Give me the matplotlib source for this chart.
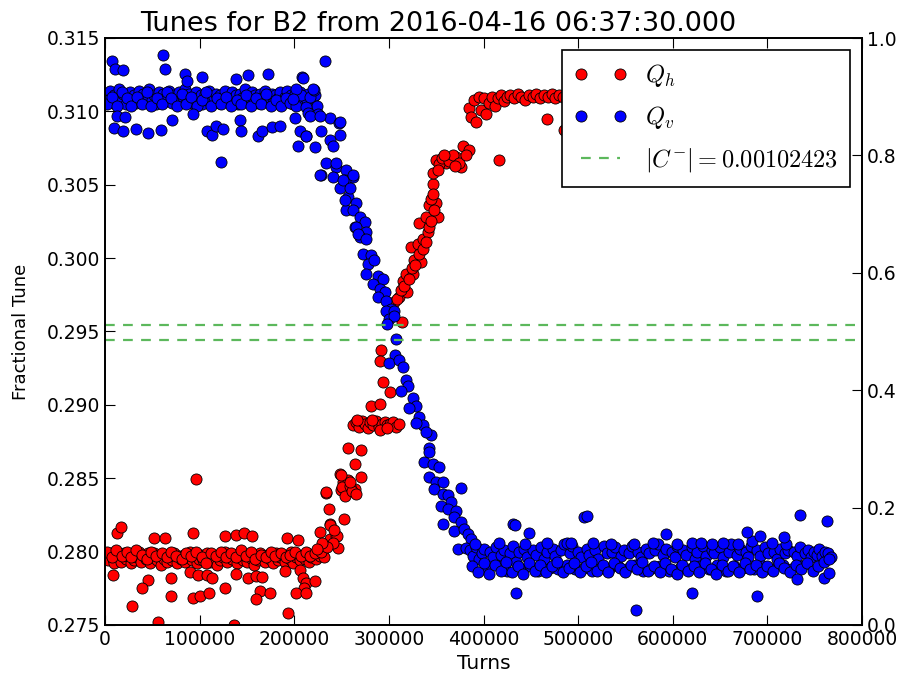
import matplotlib
matplotlib.use("Agg")
import matplotlib.pyplot as plt
from matplotlib.ticker import FormatStrFormatter
import numpy as np

plt.rcParams.update({
    "mathtext.fontset": "cm",
    "lines.scale_dashes": False,
    "font.family": "DejaVu Sans",
})

# Q_h points, (turns in thousands, tune)
qh_band = [(1,.2797),(3,.2794),(6,.2799),(8,.2795),(10,.2792),(13,.2798),(15,.2796),(17,.2793),(20,.2799),(22,.2795),
           (24,.2797),(27,.2792),(29,.2798),(31,.2794),(34,.2796),(36,.2800),(38,.2793),(41,.2797),(43,.2795),(45,.2799),
           (48,.2792),(50,.2796),(52,.2799),(55,.2794),(57,.2797),(59,.2791),(62,.2795),(64,.2798),(66,.2793),(69,.2796),
           (71,.2794),(73,.2799),(76,.2792),(78,.2797),(80,.2795),(83,.2798),(85,.2793),(87,.2796),(90,.2800),(92,.2794),
           (94,.2797),(97,.2792),(99,.2795),(101,.2798),(104,.2794),(106,.2796),(108,.2799),(111,.2793),(113,.2797),(115,.2795),
           (118,.2791),(120,.2798),(122,.2794),(125,.2796),(127,.2800),(129,.2793),(132,.2797),(134,.2795),(136,.2798),(139,.2792),
           (141,.2796),(143,.2799),(146,.2794),(148,.2797),(150,.2793),(153,.2798),(155,.2795),(157,.2791),(160,.2797),(162,.2794),
           (164,.2799),(167,.2796),(169,.2793),(171,.2798),(174,.2795),(176,.2797),(178,.2792),(181,.2799),(183,.2794),(185,.2796),
           (188,.2798),(190,.2793),(192,.2797),(195,.2795),(197,.2800),(199,.2792),(202,.2796),(204,.2798),(206,.2794),(209,.2797),
           (211,.2795),(213,.2799),(216,.2793),(218,.2796),(220,.2798),(223,.2795),(225,.2801),(227,.2797),(229,.2799),(231,.2796),
           (2,.2800),(7,.2796),(12,.2801),(18,.2797),(23,.2800),(28,.2796),(33,.2801),(39,.2798),(44,.2795),(49,.2800),
           (54,.2797),(60,.2799),(65,.2796),(70,.2800),(75,.2797),(81,.2795),(86,.2799),(91,.2797),(96,.2800),(102,.2796),
           (107,.2792),(112,.2799),(117,.2797),(123,.2800),(128,.2796),(133,.2799),(138,.2796),(144,.2801),(149,.2797),(154,.2800),
           (159,.2795),(165,.2798),(170,.2796),(175,.2800),(180,.2797),(186,.2799),(191,.2796),(196,.2798),(201,.2800),(207,.2797),
           (212,.2800),(217,.2797),(222,.2799),(228,.2800)]
qh_scatter = [(95.7,.28493),(13.0,.28126),(16.9,.28170),(51.7,.28090),(63.3,.28090),(92.8,.28126),(126.3,.28104),
              (138.5,.28113),(146.6,.28126),(155.8,.28104),(192.3,.28090),(203.9,.28080),(8.8,.27838),(45.7,.27807),
              (39.3,.27749),(69.3,.27822),(69.3,.27697),(28.2,.27628),(55.9,.27521),(89.7,.27864),(98.4,.27838),
              (107.3,.27838),(113.6,.27822),(93.1,.27681),(100.2,.27697),(109.7,.27715),(126.9,.27749),(136.8,.27502),
              (138.9,.27845),(151.2,.27822),(159.3,.27833),(166.4,.27826),(163.8,.27733),(159.3,.27674),(174.1,.27715),
              (193.4,.27582),(189.9,.27868),(205.7,.27873),(209.2,.27822),(212.8,.27788),(221.5,.27800),(209.9,.27754),
              (202.2,.27720),(212.0,.27715)]
qh_rise = [(226.8,.28131),(233.1,.28399),(233.9,.28406),(236.6,.28291),(238.1,.28188),(237.4,.28181),(237.4,.28085),
           (244.4,.28109),(245.1,.28109),(246.1,.28028),(252.4,.28222),(247.9,.28531),(251.4,.28474),(249.7,.28417),
           (256.7,.28486),(263.7,.28424),(256.7,.28703),(263.7,.28600),(270.8,.28692),(270.8,.28509),(250.5,.28440),
           (254.0,.28380),(258.5,.28450),(261.5,.28410),(265.5,.28390),(240.5,.28060),(242.5,.28150),(234.5,.28030),
           (229.5,.28060),(224.5,.28020),(249.7,.28524),(259.2,.28474),
           (261.6,.28860),(265.0,.28880),(268.5,.28850),(271.5,.28890),(274.5,.28870),(277.5,.28840),(280.5,.28880),
           (283.5,.28860),(286.5,.28890),(289.5,.28850),(292.5,.28870),(295.5,.28880),(298.5,.28860),(301.5,.28870),
           (304.5,.28880),(307.5,.28850),(311.0,.28870),(266.5,.28900),(282.5,.28900),(290.5,.28830),(298.0,.28840),
           (281.3,.28989),(290.1,.29005),(293.6,.29154),(301.4,.29087),(291.9,.29373),(290.1,.29298),(314.0,.29567),
           (305.9,.29698),(311.2,.29732),(318.9,.29766),(314.7,.29847),(318.3,.29892),(325.2,.29892),(327.0,.29984),
           (334.1,.29972),(323.5,.30075),(330.5,.30098),(335.8,.30133),(341.1,.30178),(332.3,.30240),(339.4,.30281),
           (342.8,.30361),(349.9,.30373),(351.6,.30281),(342.8,.30212),(346.3,.30505),(347.1,.30583),(308.5,.29720),
           (312.5,.29780),(316.5,.29810),(321.0,.29860),(324.0,.29930),(328.0,.29950),(331.5,.30030),(336.5,.30060),
           (339.5,.30110),(344.5,.30250),(347.5,.30330),(344.0,.30400),(346.5,.30440),
           (349.9,.30670),(360.5,.30647),(371.0,.30692),(378.0,.30761),(376.3,.30624),(385.0,.30738),(385.0,.31025),
           (353.5,.30640),(356.5,.30680),(363.5,.30660),(367.5,.30700),(374.5,.30650),(381.5,.30700),(351.5,.30600),
           (358.5,.30700),(369.5,.30630),(416.7,.30670),(485.3,.30876),(467.0,.30950),(493.5,.30990),(503.0,.31000)]
qh_top = [(387,.30960),(390,.31080),(392,.30930),(395,.31100),(397,.31010),(400,.31090),(403,.30980),(406,.31060),
          (409,.31100),(412,.31040),(415,.31090),(419,.31110),(422,.31070),(425,.31100),(428,.31110),(432,.31090),
          (436,.31120),(440,.31100),(444,.31080),(448,.31110),(452,.31100),(456,.31120),(460,.31090),(464,.31110),
          (468,.31100),(472,.31120),(476,.31090),(480,.31110),(484,.31100),(488,.31080),(492,.31110),(496,.31120),
          (500,.31100),(504,.31090),(508,.31110),(512,.31100),(516,.31120),(520,.31090),(524,.31110),(528,.31100),
          (532,.31080),(536,.31110),(540,.31100),(544,.31120),(548,.31090),(552,.31110),(560,.31100),(575,.31110),
          (590,.31100),(605,.31110),(620,.31100),(640,.31110),(660,.31100),(680,.31110),(700,.31100),(720,.31110),
          (740,.31100),(760,.31110)]

# Q_v points, (turns in thousands, tune)
qv_band = [(1,.3112),(3,.3108),(5,.3114),(8,.3106),(10,.3111),(12,.3109),(15,.3115),(17,.3107),(19,.3112),(22,.3105),
           (24,.3110),(26,.3113),(29,.3108),(31,.3111),(33,.3106),(36,.3114),(38,.3109),(40,.3112),(43,.3107),(45,.3110),
           (47,.3115),(50,.3108),(52,.3111),(54,.3105),(57,.3113),(59,.3109),(61,.3112),(64,.3107),(66,.3110),(68,.3114),
           (71,.3106),(73,.3111),(75,.3109),(78,.3113),(80,.3107),(82,.3110),(85,.3115),(87,.3108),(89,.3112),(92,.3106),
           (94,.3110),(96,.3113),(99,.3109),(101,.3111),(103,.3105),(106,.3112),(108,.3108),(110,.3114),(113,.3107),(115,.3110),
           (117,.3112),(120,.3106),(122,.3111),(124,.3109),(127,.3114),(129,.3107),(131,.3110),(134,.3113),(136,.3108),(138,.3111),
           (141,.3105),(143,.3112),(145,.3109),(148,.3115),(150,.3107),(152,.3110),(155,.3113),(157,.3108),(159,.3111),(162,.3106),
           (164,.3112),(166,.3109),(169,.3114),(171,.3107),(173,.3110),(176,.3112),(178,.3106),(180,.3111),(183,.3109),(185,.3113),
           (187,.3107),(190,.3110),(192,.3114),(194,.3108),(197,.3111),(199,.3105),(201,.3112),(204,.3109),(206,.3113),(208,.3106),
           (211,.3110),(213,.3108),(215,.3112),(218,.3105),(220,.3109),(222,.3111),(224,.3104),
           (2,.3105),(7,.3110),(13,.3104),(18,.3113),(23,.3109),(28,.3104),(34,.3110),(39,.3105),(44,.3113),(49,.3104),
           (55,.3109),(60,.3105),(65,.3113),(70,.3109),(76,.3104),(81,.3112),(86,.3105),(91,.3110),(97,.3104),(102,.3108),
           (107,.3113),(112,.3104),(118,.3109),(123,.3105),(128,.3110),(133,.3104),(139,.3108),(144,.3105),(149,.3111),(154,.3104),
           (160,.3109),(165,.3105),(170,.3112),(175,.3104),(181,.3108),(186,.3104),(191,.3109),(196,.3106),(202,.3104),(207,.3111),
           (212,.3103),(217,.3110)]
qv_scatter_left = [(7.1,.31344),(10.5,.31287),(19.3,.31283),(60.9,.31385),(63.3,.31292),(84.4,.31253),(86.2,.31207),
                   (102.0,.31237),(138.9,.31219),(151.2,.31246),(172.3,.31253),(208.6,.31237),(232.1,.31340),(220.8,.31145),
                   (9.5,.30887),(18.7,.30864),(32.7,.30880),(45.7,.30853),(58.8,.30871),(12.3,.30967),(21.1,.30963),
                   (70.4,.30944),(92.5,.30979),(107.3,.30864),(112.6,.30837),(117.8,.30903),(124.8,.30880),(142.4,.30944),
                   (144.2,.30864),(161.7,.30834),(166.4,.30864),(176.9,.30894),(184.6,.30898),(122.1,.30654),(200.4,.30956),
                   (205.7,.30864),(212.8,.30830),(203.9,.30761),(221.5,.30757),(209.2,.31230),(219.7,.31150),(202.2,.31150),
                   (198.6,.31081)]
qv_fall = [(214.5,.30990),(225.0,.30979),(237.4,.30956),(247.2,.30922),(247.9,.30841),(237.4,.30807),(240.8,.30761),
           (233.9,.30647),(228.6,.30567),(244.4,.30624),(255.0,.30601),(261.9,.30555),(253.2,.30533),(247.9,.30476),
           (256.7,.30418),(255.0,.30327),(263.7,.30212),(216.3,.30967),(226.8,.30967),(247.9,.30926),(228.6,.30864),
           (212.8,.30830),(244.4,.30647),(227.5,.30567),(240.8,.30555),(251.4,.30533),(261.9,.30567),(258.5,.30476),
           (253.2,.30395),(265.5,.30373),(261.9,.30327),(269.0,.30281),(274.3,.30247),(265.5,.30212),(276.1,.30178),
           (269.0,.30144),(267.2,.30167),(276.1,.30133),(272.5,.30030),(281.3,.30018),(277.8,.29961),(284.8,.29984),
           (276.1,.29892),(288.3,.29881),(293.6,.29858),(283.0,.29824),(290.1,.29790),(295.4,.29766),(288.3,.29732),
           (297.2,.29709),(302.4,.29652),(297.2,.29641),(305.9,.29641),(300.6,.29584),(305.9,.29606),(297.8,.29549),
           (307.7,.29446),(306.9,.29343),(300.6,.29286),(311.2,.29309),(314.7,.29256),(318.3,.29172),(320.0,.29126),
           (313.0,.29092),(325.2,.29046),(328.8,.28989),(321.7,.28977),(332.3,.28920),(335.8,.28863),(328.8,.28874),
           (344.6,.28795),(339.4,.28817),(342.8,.28703),(337.6,.28611),(342.8,.28680),(346.3,.28600),(353.4,.28577),
           (342.8,.28509),(349.9,.28474),(356.9,.28474),(348.1,.28428),(356.9,.28394),(362.1,.28383),(365.7,.28337),
           (355.2,.28314),(362.1,.28291),(371.0,.28280),(369.2,.28234),(376.3,.28200),(356.9,.28188),(369.2,.28143),
           (379.8,.28154),(383.2,.28120),(386.8,.28086),(372.7,.28017),(381.6,.28028),(376.3,.28433)]
qv_band_right = [(386,.2801),(389,.2797),(392,.2803),(395,.2795),(398,.2799),(401,.2802),(404,.2789),(407,.2800),
                 (410,.2796),(413,.2803),(416,.2790),(419,.2798),(422,.2801),(425,.2787),(428,.2799),(431,.2804),
                 (434,.2793),(437,.2800),(440,.2788),(443,.2802),(446,.2796),(449,.2790),(452,.2801),(455,.2798),
                 (458,.2787),(461,.2803),(464,.2795),(467,.2800),(470,.2789),(473,.2802),(476,.2797),(479,.2788),
                 (482,.2801),(485,.2805),(488,.2791),(491,.2799),(494,.2804),(497,.2788),(500,.2800),(503,.2796),
                 (506,.2789),(509,.2802),(512,.2798),(515,.2787),(518,.2801),(521,.2795),(524,.2789),(527,.2804),
                 (530,.2799),(533,.2788),(536,.2800),(539,.2803),(542,.2790),(545,.2797),(548,.2801),(551,.2788),
                 (554,.2799),(557,.2804),(560,.2791),(563,.2800),(566,.2796),(569,.2787),(572,.2802),(575,.2799),
                 (578,.2789),(581,.2801),(584,.2805),(587,.2790),(590,.2798),(593,.2802),(596,.2787),(599,.2800),
                 (602,.2796),(605,.2804),(608,.2789),(611,.2801),(614,.2798),(617,.2788),(620,.2803),(623,.2795),
                 (626,.2800),(629,.2790),(632,.2804),(635,.2797),(638,.2788),(641,.2801),(644,.2799),(647,.2791),
                 (650,.2803),(653,.2796),(656,.2787),(659,.2800),(662,.2805),(665,.2790),(668,.2798),(671,.2802),
                 (674,.2789),(677,.2800),(680,.2796),(683,.2804),(686,.2788),(689,.2801),(692,.2797),(695,.2790),
                 (698,.2803),(701,.2799),(704,.2788),(707,.2800),(710,.2795),(713,.2802),(716,.2791),(719,.2799),
                 (722,.2801),(725,.2788),(728,.2800),(731,.2797),(734,.2803),(737,.2790),(740,.2799),(743,.2801),
                 (746,.2796),(749,.2800),(752,.2798),(755,.2802),(758,.2797),(761,.2800),(764,.2799),(767,.2796),
                 (388,.2790),(394,.2786),(400,.2792),(406,.2785),(412,.2791),(418,.2787),(424,.2793),(430,.2786),
                 (436,.2790),(442,.2785),(448,.2792),(454,.2787),(460,.2791),(466,.2786),(472,.2790),(478,.2793),
                 (484,.2786),(490,.2789),(496,.2792),(502,.2786),(508,.2790),(514,.2793),(520,.2787),(526,.2791),
                 (532,.2786),(538,.2792),(544,.2789),(550,.2786),(556,.2791),(562,.2788),(568,.2793),(574,.2787),
                 (580,.2790),(586,.2786),(592,.2792),(598,.2788),(604,.2785),(610,.2791),(616,.2787),(622,.2790),
                 (628,.2786),(634,.2792),(640,.2788),(646,.2785),(652,.2791),(658,.2787),(664,.2790),(670,.2786),
                 (676,.2792),(682,.2788),(688,.2791),(694,.2786),(700,.2790),(706,.2787),(712,.2792),(718,.2789),
                 (724,.2786),(730,.2791),(736,.2788),(742,.2792),(748,.2787),(754,.2790),(760,.2793),(765,.2795),
                 (391,.2805),(416,.2806),(444,.2805),(467,.2806),(488,.2806),(492,.2806),(516,.2806),(535,.2805),
                 (559,.2805),(579,.2806),(604,.2805),(620,.2806),(630,.2806),(641,.2805),(653,.2806),(669,.2805),
                 (684,.2807),(705,.2806),(720,.2805)]
qv_scatter_right = [(430.7,.28188),(433.5,.28180),(506.4,.28234),(509.8,.28246),(448.3,.28127),(734.9,.28250),
                    (763.0,.28211),(434.3,.27720),(561.5,.27605),(620.0,.27715),(689.2,.27701),(678.6,.28136),
                    (692.7,.28109),(592.5,.28120),(717.3,.28097),(731.4,.27816),(759.5,.27822),(764.8,.27857)]

c_minus = 0.00102423
c_lines = [0.29546, 0.29444]


def unpack(*groups):
    pts = [p for g in groups for p in g]
    return np.array([p[0] for p in pts]) * 1000, np.array([p[1] for p in pts])


hx, hy = unpack(qh_band, qh_scatter, qh_rise, qh_top)
vx, vy = unpack(qv_band, qv_scatter_left, qv_fall, qv_band_right, qv_scatter_right)

fig = plt.figure(figsize=(9.05, 6.82), dpi=100)
ax = fig.add_axes([105/905, 57/682, 757/905, 587/682])

ax.plot(hx, hy, 'o', color='red', mec='black', mew=0.6, ms=8, label=r'$Q_h$')
ax.plot(vx, vy, 'o', color='blue', mec='black', mew=0.6, ms=8, label=r'$Q_v$')
ax.axhline(c_lines[0], color='#5cb85c', ls='--', dashes=(7, 6), lw=1.6,
           label=r'$|C^{-}|=%.8f$' % c_minus)
ax.axhline(c_lines[1], color='#5cb85c', ls='--', dashes=(7, 6), lw=1.6)

ax.set_xlim(0, 800000)
ax.set_ylim(0.275, 0.315)
ax.set_xticks(np.arange(0, 800001, 100000))
ax.set_yticks(np.arange(0.275, 0.3151, 0.005))
ax.xaxis.set_major_formatter(FormatStrFormatter('%d'))
ax.yaxis.set_major_formatter(FormatStrFormatter('%.3f'))
ax.tick_params(direction='in', top=True, length=7, labelsize=13.5)
ax.set_xlabel('Turns', fontsize=14.5)
ax.set_ylabel('Fractional Tune', fontsize=13, labelpad=12)
ttl = ax.set_title('Tunes for B2 from 2016-04-16 06:37:30.000', fontsize=19.5, pad=5)
ttl.set_x(0.44)

leg = ax.legend(loc='upper right', numpoints=2, fancybox=False, framealpha=1,
                edgecolor='black', fontsize=17.5, labelspacing=0.62,
                handlelength=2.2, handletextpad=0.7, borderpad=0.5)
leg.get_frame().set_linewidth(1.2)

ax2 = ax.twinx()
ax2.set_ylim(0, 1)
ax2.set_yticks(np.arange(0, 1.01, 0.2))
ax2.yaxis.set_major_formatter(FormatStrFormatter('%.1f'))
ax2.tick_params(direction='in', length=7, labelsize=13.5)

for a in (ax, ax2):
    for s in a.spines.values():
        s.set_linewidth(1.3)

fig.savefig('out.png', dpi=100)
